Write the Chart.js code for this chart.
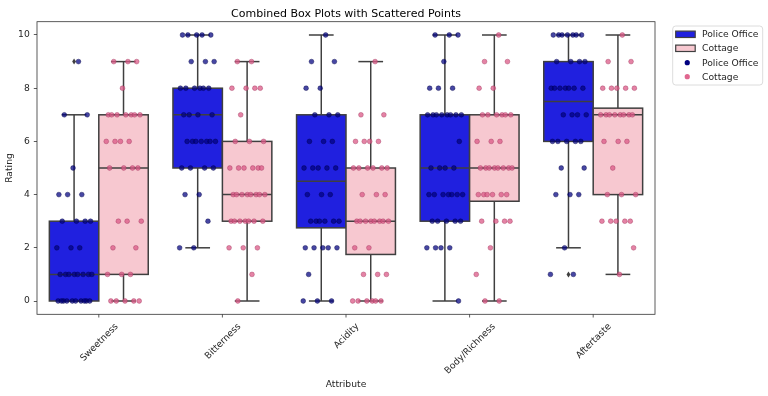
<!DOCTYPE html>
<html><head><meta charset="utf-8">
<script src="https://cdn.jsdelivr.net/npm/chart.js@4"></script>
<style>html,body{margin:0;padding:0;background:#fff}#wrap{width:768px;height:396px}</style>
</head><body><div id="wrap"><canvas id="c" width="768" height="396"></canvas></div>
<script>
// ---------- data ----------
const categories = ['Sweetness', 'Bitterness', 'Acidity', 'Body/Richness', 'Aftertaste'];
const yTicks = [0, 2, 4, 6, 8, 10];

const policeSweetness  = [9,7,7,5,4,4,4,3,3,3,3,2,2,2,1,1,1,1,1,1,1,1,0,0,0,0,0,0,0,0,0,0];
const cottageSweetness = [9,9,9,8,7,7,7,7,7,7,7,6,6,6,6,5,5,5,5,3,3,3,2,2,1,1,1,0,0,0,0,0];
const policeBitterness  = [10,10,10,10,10,9,9,9,8,8,8,8,8,8,7,7,7,7,6,6,6,6,6,6,6,5,5,5,5,4,4,3,2,2];
const cottageBitterness = [9,9,8,8,8,8,7,6,6,6,5,5,5,5,5,5,4,4,4,4,4,4,4,4,3,3,3,3,3,3,3,2,2,2,1,0];
const policeAcidity  = [10,9,9,8,8,7,7,7,6,6,6,5,5,5,5,5,4,4,4,3,3,3,3,3,3,2,2,2,2,2,1,0,0,0];
const cottageAcidity = [9,7,7,6,6,6,6,5,5,5,5,5,5,4,4,4,3,3,3,3,3,3,3,3,2,2,1,1,1,0,0,0,0,0,0];
const policeBody  = [10,10,10,9,8,8,8,7,7,7,7,7,7,7,7,6,5,5,5,5,4,4,4,4,4,4,4,3,3,3,3,3,2,2,2,2,0];
const cottageBody = [10,9,9,8,8,7,7,7,7,7,7,6,6,6,5,5,5,5,5,5,5,5,4,4,4,4,4,4,3,3,3,3,2,1,0,0];
const policeAftertaste  = [10,10,10,10,10,10,10,9,9,9,9,8,8,8,8,8,8,8,7,7,7,7,6,6,6,6,6,5,5,4,4,4,2,1,1];
const cottageAftertaste = [10,9,9,8,8,8,8,8,7,7,7,7,7,7,7,7,6,6,6,5,4,4,4,3,3,3,3,3,2,1];

// box statistics
const policeLow    = [0, 2, 0, 0, 2];
const policeQ1     = [0, 5, 2.75, 3, 6];
const policeMedian = [1, 7, 4.5, 5, 7.5];
const policeQ3     = [3, 8, 7, 7, 9];
const policeHigh   = [7, 10, 10, 10, 10];
const policeFliers = [[9], [], [], [], [1]];
const cottageLow    = [0, 0, 0, 0, 1];
const cottageQ1     = [1, 3, 1.75, 3.75, 4];
const cottageMedian = [5, 4, 3, 5, 7];
const cottageQ3     = [7, 6, 5, 7, 7.25];
const cottageHigh   = [9, 9, 9, 10, 10];
const cottageFliers = [[], [], [], [], []];

// ---------- styling ----------
const FONT = '"DejaVu Sans", "Liberation Sans", sans-serif';
const EDGE = '#3f3f3f';
const BLUE_BOX = '#2020df';
const PINK_BOX = '#f7c8d0';
const BLUE_PT = 'rgba(0,0,128,0.72)';
const BLUE_PT_EDGE = 'rgba(0,0,70,0.8)';
const PINK_PT = 'rgba(219,90,135,0.75)';
const PINK_PT_EDGE = 'rgba(160,50,90,0.8)';
const HALF = 0.2;   // half box width (category units)

const policeLists = [policeSweetness, policeBitterness, policeAcidity, policeBody, policeAftertaste];
const cottageLists = [cottageSweetness, cottageBitterness, cottageAcidity, cottageBody, cottageAftertaste];

function stripPoints(lists, shift) {
  const pts = [];
  lists.forEach((vals, i) => vals.forEach((v, k) => {
    const j = ((((k + 1) * 0.6180339887) % 1) - 0.5) * 0.3;
    pts.push({x: i + shift + j, y: v});
  }));
  return pts;
}

const groups = [
  {lo: policeLow, q1: policeQ1, med: policeMedian, q3: policeQ3, hi: policeHigh, fl: policeFliers, shift: -HALF, fill: BLUE_BOX},
  {lo: cottageLow, q1: cottageQ1, med: cottageMedian, q3: cottageQ3, hi: cottageHigh, fl: cottageFliers, shift: HALF, fill: PINK_BOX}
];

function line(ctx, x1, y1, x2, y2) { ctx.beginPath(); ctx.moveTo(x1, y1); ctx.lineTo(x2, y2); ctx.stroke(); }

const boxPlugin = {
  id: 'boxDecor',
  beforeDatasetsDraw(chart) {
    const ctx = chart.ctx, xs = chart.scales.x, y = chart.scales.y;
    ctx.save();
    ctx.strokeStyle = EDGE; ctx.lineWidth = 1.5; ctx.lineCap = 'butt';
    groups.forEach(g => {
      categories.forEach((c, i) => {
        const cx = xs.getPixelForValue(i + g.shift);
        const cl = xs.getPixelForValue(i + g.shift - HALF / 2), cr = xs.getPixelForValue(i + g.shift + HALF / 2);
        const yLo = y.getPixelForValue(g.lo[i]), yHi = y.getPixelForValue(g.hi[i]);
        const yQ1 = y.getPixelForValue(g.q1[i]), yQ3 = y.getPixelForValue(g.q3[i]);
        // whiskers and caps
        line(ctx, cx, yLo, cx, yQ1);
        line(ctx, cx, yQ3, cx, yHi);
        line(ctx, cl, yLo, cr, yLo);
        line(ctx, cl, yHi, cr, yHi);
        // box
        const bl = xs.getPixelForValue(i + g.shift - HALF), br = xs.getPixelForValue(i + g.shift + HALF);
        ctx.fillStyle = g.fill;
        ctx.fillRect(bl, yQ3, br - bl, yQ1 - yQ3);
        ctx.strokeRect(bl, yQ3, br - bl, yQ1 - yQ3);
        // median
        const my = y.getPixelForValue(g.med[i]);
        line(ctx, bl, my, br, my);
        // fliers
        g.fl[i].forEach(v => {
          const fy = y.getPixelForValue(v);
          ctx.fillStyle = EDGE;
          ctx.beginPath();
          ctx.moveTo(cx, fy - 3); ctx.lineTo(cx + 1.9, fy); ctx.lineTo(cx, fy + 3); ctx.lineTo(cx - 1.9, fy);
          ctx.closePath(); ctx.fill();
        });
      });
    });
    ctx.restore();
  },
  afterDraw(chart) {
    const ctx = chart.ctx, a = chart.chartArea, xs = chart.scales.x;
    ctx.save();
    // frame
    ctx.strokeStyle = '#333'; ctx.lineWidth = 0.8;
    ctx.strokeRect(a.left, a.top, a.right - a.left, a.bottom - a.top);
    // x tick marks + rotated labels
    ctx.fillStyle = '#262626';
    ctx.font = '9.2px ' + FONT;
    categories.forEach((c, i) => {
      const x = xs.getPixelForValue(i);
      line(ctx, x, a.bottom, x, a.bottom + 3.2);
      const w = ctx.measureText(c).width;
      const cy = a.bottom + 6.4 + (w + 10.7) * Math.SQRT1_2 / 2;
      ctx.save();
      ctx.translate(x, cy);
      ctx.rotate(-Math.PI / 4);
      ctx.textAlign = 'center'; ctx.textBaseline = 'alphabetic';
      ctx.fillText(c, 0, 3.2);
      ctx.restore();
    });
    // axis titles
    ctx.textAlign = 'center'; ctx.textBaseline = 'alphabetic';
    ctx.fillText('Attribute', (a.left + a.right) / 2, 387);
    ctx.save();
    ctx.translate(12, (a.top + a.bottom) / 2);
    ctx.rotate(-Math.PI / 2);
    ctx.fillText('Rating', 0, 0);
    ctx.restore();
    // chart title
    ctx.fillStyle = '#000';
    ctx.font = '11px ' + FONT;
    ctx.fillText('Combined Box Plots with Scattered Points', (a.left + a.right) / 2, 16.7);
    // legend
    const lx = a.right + 17.7, ly = 26, lw = 90, lh = 59;
    ctx.fillStyle = 'rgba(255,255,255,0.8)';
    ctx.strokeStyle = '#d3d3d3'; ctx.lineWidth = 0.8;
    ctx.beginPath(); ctx.roundRect(lx, ly, lw, lh, 3); ctx.fill(); ctx.stroke();
    const rows = [ly + 8.3, ly + 22.3, ly + 36.7, ly + 50.7];
    const hx = lx + 3, hw = 19.5;
    ctx.lineWidth = 1.2; ctx.strokeStyle = EDGE;
    ctx.fillStyle = BLUE_BOX; ctx.fillRect(hx, rows[0] - 3.2, hw, 6.4); ctx.strokeRect(hx, rows[0] - 3.2, hw, 6.4);
    ctx.fillStyle = PINK_BOX; ctx.fillRect(hx, rows[1] - 3.2, hw, 6.4); ctx.strokeRect(hx, rows[1] - 3.2, hw, 6.4);
    ctx.fillStyle = '#000080';
    ctx.beginPath(); ctx.arc(hx + hw / 2 + 1.8, rows[2], 2.6, 0, Math.PI * 2); ctx.fill();
    ctx.fillStyle = '#e0668f';
    ctx.beginPath(); ctx.arc(hx + hw / 2 + 1.8, rows[3], 2.6, 0, Math.PI * 2); ctx.fill();
    ctx.fillStyle = '#262626'; ctx.font = '9.2px ' + FONT;
    ctx.textAlign = 'left'; ctx.textBaseline = 'middle';
    ['Police Office', 'Cottage', 'Police Office', 'Cottage'].forEach((t, k) => ctx.fillText(t, lx + 29.3, rows[k] + 0.5));
    ctx.restore();
  }
};

new Chart(document.getElementById('c'), {
  type: 'scatter',
  data: {
    datasets: [
      {label: 'Police Office', data: stripPoints(policeLists, -HALF),
       backgroundColor: BLUE_PT, borderColor: BLUE_PT_EDGE, borderWidth: 0.5, pointRadius: 2.4},
      {label: 'Cottage', data: stripPoints(cottageLists, HALF),
       backgroundColor: PINK_PT, borderColor: PINK_PT_EDGE, borderWidth: 0.5, pointRadius: 2.4}
    ]
  },
  options: {
    responsive: false,
    animation: false,
    devicePixelRatio: 1,
    layout: {padding: {left: 0, top: 21.7, right: 113, bottom: 0}},
    plugins: {legend: {display: false}, tooltip: {enabled: false}, title: {display: false}},
    scales: {
      x: {type: 'linear', min: -0.5, max: 4.5, ticks: {display: false}, grid: {display: false}, border: {display: false},
          afterFit: s => { s.height = 81.7; }},
      y: {type: 'linear', min: -0.5, max: 10.5,
          afterBuildTicks: s => { s.ticks = yTicks.map(v => ({value: v})); },
          ticks: {font: {family: FONT, size: 9.2}, color: '#262626', padding: 4},
          grid: {drawOnChartArea: false, drawTicks: true, tickLength: 3.2, tickColor: '#333', tickWidth: 0.8},
          border: {display: false},
          afterFit: s => { s.width = 37; }}
    }
  },
  plugins: [boxPlugin]
});
</script></body></html>
